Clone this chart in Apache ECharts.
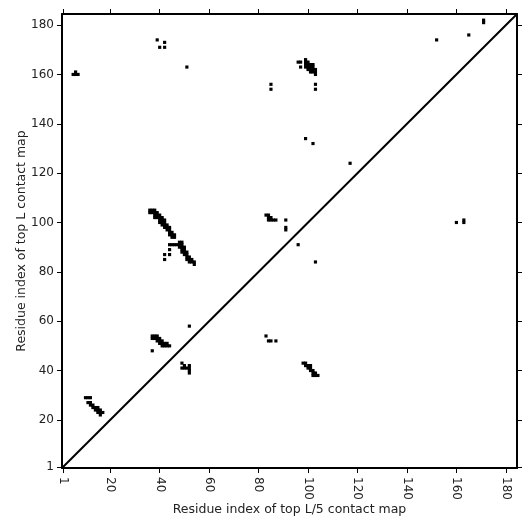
<!DOCTYPE html>
<html>
<head>
<meta charset="utf-8">
<script src="https://cdn.jsdelivr.net/npm/echarts@6/dist/echarts.min.js"></script>
<style>
html,body{margin:0;padding:0;background:#fff;}
#chart{width:531px;height:531px;}
</style>
</head>
<body>
<div id="chart"></div>
<script>
// Axis settings (residue index)
const axisMin = 0.5;
const axisMax = 184.5;
const tickValues = [1, 20, 40, 60, 80, 100, 120, 140, 160, 180];
const xTitle = 'Residue index of top L/5 contact map';
const yTitle = 'Residue index of top L contact map';

// Contact cells [x, y] grouped by cluster
const clusterTopLeft = [[5,160],[6,160],[7,160],[6,161]];
const clusterTop = [[39,174],[42,173],[40,171],[42,171],[51,163]];
const clusterUpperMid = [[99,166],[96,165],[97,165],[99,165],[100,165],[99,164],[100,164],[101,164],[102,164],
  [97,163],[99,163],[100,163],[101,163],[102,163],[100,162],[101,162],[102,162],[103,162],
  [101,161],[102,161],[103,161],[103,160]];
const isolatedUpper = [[85,156],[85,154],[103,156],[103,154],[99,134],[102,132],[117,124],
  [152,174],[165,176],[171,182],[171,181],[160,100],[163,101],[163,100]];
const strandA = [[36,105],[37,105],[38,105],[36,104],[37,104],[38,104],[39,104],
  [38,103],[39,103],[40,103],[38,102],[39,102],[40,102],[41,102],[40,101],[41,101],[42,101],
  [40,100],[41,100],[42,100],[41,99],[42,99],[43,99],[42,98],[43,98],[44,98],[43,97],[44,97],
  [44,96],[45,96],[44,95],[45,95],[46,95],[45,94],[46,94]];
const strandB = [[48,92],[49,92],[44,91],[45,91],[46,91],[47,91],[48,91],[49,91],
  [48,90],[49,90],[50,90],[49,89],[50,89],[49,88],[50,88],[51,88],[50,87],[51,87],
  [51,86],[52,86],[51,85],[52,85],[53,85],[52,84],[53,84],[54,84],[54,83],
  [44,89],[44,87],[42,87],[42,85]];
const clusterMid = [[83,103],[84,103],[84,102],[85,102],[84,101],[85,101],[86,101],[87,101],
  [91,101],[91,98],[91,97],[96,91],[103,84]];
const strandLow = [[10,29],[11,29],[12,29],[11,27],[12,27],[12,26],[13,26],[13,25],[14,25],[15,25],
  [14,24],[15,24],[16,24],[15,23],[16,23],[17,23],[16,22]];
const clusterLowMid = [[37,54],[38,54],[39,54],[37,53],[38,53],[39,53],[40,53],[39,52],[40,52],[41,52],
  [40,51],[41,51],[42,51],[43,51],[41,50],[42,50],[43,50],[44,50],[37,48],[52,58]];
const clusterLowRight = [[49,43],[49,41],[50,41],[50,42],[51,41],[52,42],[52,41],[52,40],[52,39],
  [83,54],[84,52],[85,52],[87,52],
  [98,43],[99,43],[99,42],[100,42],[101,42],[100,41],[101,41],[101,40],[102,40],
  [102,39],[103,39],[102,38],[103,38],[104,38]];
const diagonal = [[axisMin, axisMin],[axisMax, axisMax]];

const cells = [].concat(clusterTopLeft, clusterTop, clusterUpperMid, isolatedUpper,
  strandA, strandB, clusterMid, strandLow, clusterLowMid, clusterLowRight);

const font = 'DejaVu Sans';
const chart = echarts.init(document.getElementById('chart'), null, {renderer: 'canvas'});

function baseAxis(pos, showLabel) {
  return {
    type: 'value', min: axisMin, max: axisMax, position: pos,
    axisLine: {show: true, onZero: false, lineStyle: {color: '#000', width: 2}},
    axisTick: {show: true, customValues: tickValues, length: 5, inside: false, lineStyle: {color: '#000', width: 1}},
    axisLabel: {show: showLabel, customValues: tickValues, color: '#222', fontFamily: font, fontSize: 12},
    splitLine: {show: false}
  };
}

const xBottom = baseAxis('bottom', true);
xBottom.axisLabel.rotate = -90;
xBottom.axisLabel.margin = 9;
xBottom.name = xTitle;
xBottom.nameLocation = 'middle';
xBottom.nameGap = 35;
xBottom.nameMoveOverlap = false;
xBottom.nameTextStyle = {color: '#222', fontFamily: font, fontSize: 12.5};
const xTop = baseAxis('top', false);
const yLeft = baseAxis('left', true);
yLeft.axisLabel.margin = 8;
yLeft.name = yTitle;
yLeft.nameLocation = 'middle';
yLeft.nameGap = 34;
yLeft.nameMoveOverlap = false;
yLeft.nameTextStyle = {color: '#222', fontFamily: font, fontSize: 12.5};
const yRight = baseAxis('right', false);

chart.setOption({
  animation: false,
  backgroundColor: '#fff',
  grid: {left: 62, top: 14, width: 455, height: 454, containLabel: false},
  xAxis: [xBottom, xTop],
  yAxis: [yLeft, yRight],
  series: [
    {
      type: 'custom',
      xAxisIndex: 0, yAxisIndex: 0,
      data: cells,
      renderItem: function (params, api) {
        const x = api.value(0), y = api.value(1);
        const p = api.coord([x - 0.5, y + 0.5]);
        const s = api.size([1, 1]);
        return {type: 'rect', shape: {x: p[0] - 0.35, y: p[1] - 0.35, width: s[0] + 0.7, height: s[1] + 0.7}, style: {fill: '#000', stroke: null}};
      },
      silent: true
    },
    {
      type: 'line',
      xAxisIndex: 0, yAxisIndex: 0,
      data: diagonal,
      symbol: 'none',
      lineStyle: {color: '#000', width: 2},
      z: 5,
      silent: true
    }
  ]
});
</script>
</body>
</html>
